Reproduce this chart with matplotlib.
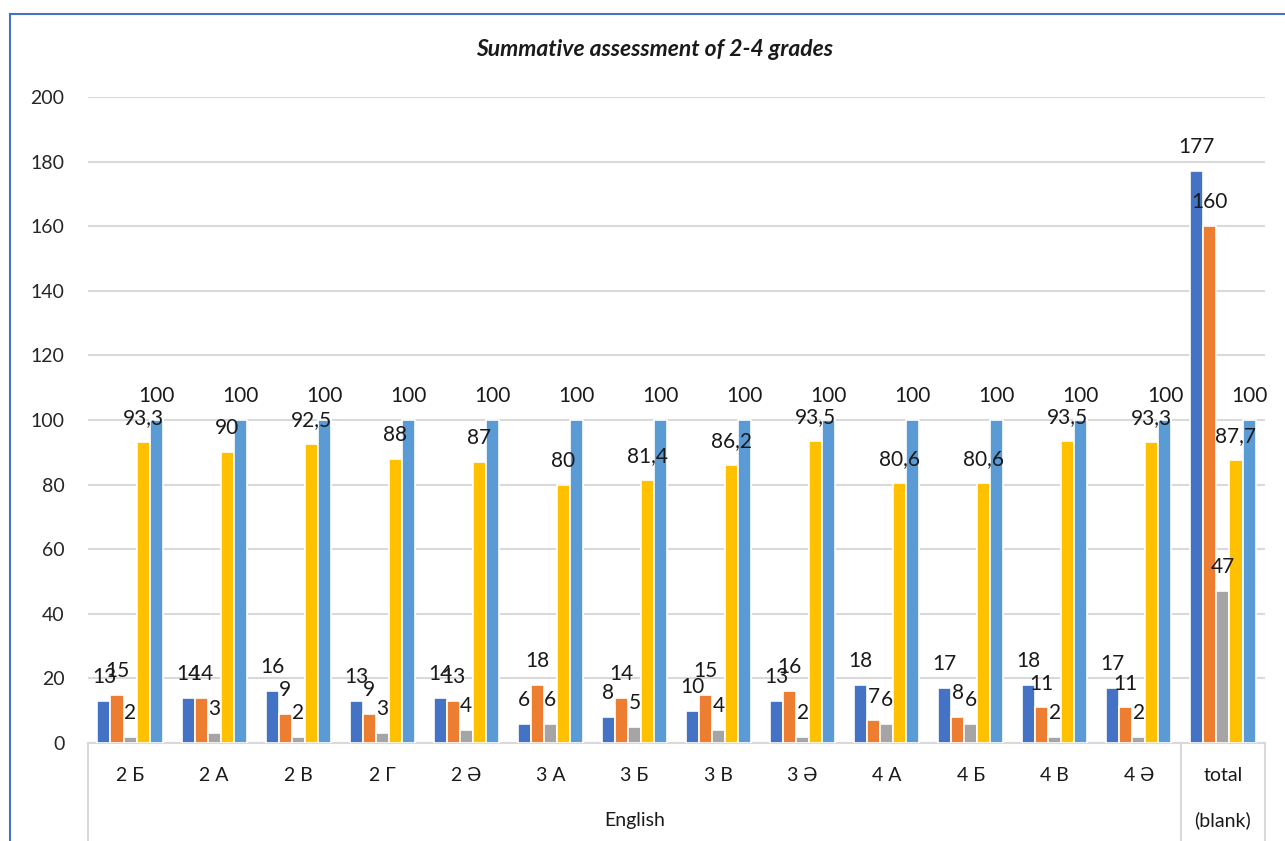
import matplotlib
matplotlib.use('Agg')
import matplotlib.pyplot as plt
from matplotlib.lines import Line2D
import numpy as np

plt.rcParams['font.family'] = ['Lato', 'Noto Sans', 'DejaVu Sans']

classes = ['2 Б', '2 А', '2 В', '2 Г', '2 Ә', '3 А', '3 Б', '3 В', '3 Ә',
           '4 А', '4 Б', '4 В', '4 Ә', 'total']
s1 = [13, 14, 16, 13, 14, 6, 8, 10, 13, 18, 17, 18, 17, 177]
s2 = [15, 14, 9, 9, 13, 18, 14, 15, 16, 7, 8, 11, 11, 160]
s3 = [2, 3, 2, 3, 4, 6, 5, 4, 2, 6, 6, 2, 2, 47]
s4 = [93.3, 90, 92.5, 88, 87, 80, 81.4, 86.2, 93.5, 80.6, 80.6, 93.5, 93.3, 87.7]
s5 = [100] * 14
groups = ['English', '(blank)']
group_sizes = [13, 1]

colors = ['#4472C4', '#ED7D31', '#A5A5A5', '#FFC000', '#5B9BD5']
series = [s1, s2, s3, s4, s5]

fig = plt.figure(figsize=(12.85, 8.41), dpi=100)
ax = fig.add_axes([88 / 1285, 1 - 743 / 841, (1265 - 88) / 1285, (743 - 97) / 841])

x = np.arange(len(classes))
step = 0.155
for i, (vals, c) in enumerate(zip(series, colors)):
    pos = x + (i - 2) * step
    ax.bar(pos, vals, width=step, color=c, edgecolor='white', linewidth=1.2, zorder=3)
    for px, v in zip(pos, vals):
        txt = ('%g' % v).replace('.', ',')
        ax.annotate(txt, (px, v), xytext=(0, 10), textcoords='offset points',
                    ha='center', va='bottom', fontsize=15, color='#1a1a1a', zorder=4)

ax.set_xlim(-0.5, len(classes) - 0.5)
ax.set_ylim(0, 200)
ax.set_yticks(np.arange(0, 201, 20))
ax.tick_params(axis='y', length=0, labelsize=14, labelcolor='#262626', pad=17)
ax.yaxis.grid(True, color='#D9D9D9', linewidth=1.5, zorder=0)
ax.set_xticks([])
for sp in ['top', 'right', 'left']:
    ax.spines[sp].set_visible(False)
ax.spines['bottom'].set_color('#D9D9D9')
ax.spines['bottom'].set_linewidth(1.5)

# category labels
for xi, name in zip(x, classes):
    ax.text(xi, -0.05, name, transform=ax.get_xaxis_transform(), ha='center',
            va='center', fontsize=14, color='#1a1a1a')

# group labels and separators
start = 0
bounds = [-0.5]
for g, n in zip(groups, group_sizes):
    mid = start + (n - 1) / 2
    ax.text(mid, -0.12, g, transform=ax.get_xaxis_transform(), ha='center',
            va='center', fontsize=14, color='#1a1a1a')
    start += n
    bounds.append(start - 0.5)
for b in bounds:
    ax.add_line(Line2D([b, b], [0, -0.16], transform=ax.get_xaxis_transform(),
                       color='#D9D9D9', linewidth=1.5, clip_on=False))

fig.text(0.509, 1 - 50 / 841, 'Summative assessment of 2-4 grades', ha='center',
         va='center', fontsize=16.5, fontweight='bold', fontstyle='italic', color='#1a1a1a')

# chart frame (partially cropped)
fig.add_artist(Line2D([10 / 1285, 10 / 1285], [0, 1 - 14 / 841], color='#4472C4', linewidth=1.5))
fig.add_artist(Line2D([10 / 1285, 1], [1 - 14 / 841, 1 - 14 / 841], color='#4472C4', linewidth=1.5))

fig.savefig('out.png', dpi=100)
